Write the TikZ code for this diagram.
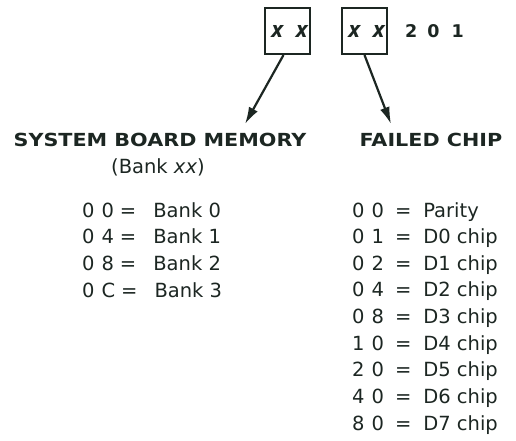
\documentclass[tikz,border=0pt]{standalone}
\usepackage{fontspec}
\setmainfont{DejaVu Sans}
\newfontfamily\osans{Open Sans}
\usetikzlibrary{arrows.meta}
\definecolor{ink}{HTML}{1C2622}
\newcommand{\hd}[1]{\scalebox{1.15}[1]{#1}}
\newcommand{\lrw}[3]{#1\hspace{7pt}#2\hspace{6pt}=\hspace{17pt}#3}
\newcommand{\rrw}[3]{#1\hspace{7pt}#2\hspace{11pt}=\hspace{12pt}#3}
\begin{document}
\begin{tikzpicture}[x=1pt,y=-1pt,
  every node/.style={text=ink, inner sep=0pt},
  xbox/.style={draw=ink, line width=2pt, minimum width=45pt, minimum height=46pt,
    font=\osans\fontsize{22}{24}\selectfont\bfseries\itshape},
  ptr/.style={draw=ink, line width=2.2pt, -{Latex[length=17pt,width=10pt]}},
  head/.style={font=\fontsize{18}{22}\selectfont\bfseries, anchor=base},
  item/.style={font=\fontsize{19.5}{24}\selectfont, anchor=base west}]
\useasboundingbox (0,0) rectangle (516,440);
\node[xbox] (b1) at (287.5,31) {\hspace{4pt}x\hspace{13pt}x};
\node[xbox] (b2) at (364.5,31) {\hspace{4pt}x\hspace{13pt}x};
\node[anchor=base west, font=\fontsize{17.5}{20}\selectfont\bfseries] (code) at (405,37.5) {2\hspace{10pt}0\hspace{12pt}1};
\node[head] (sbm) at (160,146.5) {\hd{SYSTEM BOARD MEMORY}};
\node[item, anchor=base] (bank) at (158,173) {(Bank \textit{xx})};
\node[head] (fc) at (431,146.5) {\hd{FAILED CHIP}};
\node[item] (l1) at (82,217) {\lrw{0}{0}{Bank 0}};
\node[item] (l2) at (82,243.7) {\lrw{0}{4}{Bank 1}};
\node[item] (l3) at (82,270.3) {\lrw{0}{8}{Bank 2}};
\node[item] (l4) at (82,297) {\lrw{0}{C}{Bank 3}};
\node[item] (r1) at (352,217) {\rrw{0}{0}{Parity}};
\node[item] (r2) at (352,243.6) {\rrw{0}{1}{D0 chip}};
\node[item] (r3) at (352,270.3) {\rrw{0}{2}{D1 chip}};
\node[item] (r4) at (352,296.9) {\rrw{0}{4}{D2 chip}};
\node[item] (r5) at (352,323.5) {\rrw{0}{8}{D3 chip}};
\node[item] (r6) at (352,350.1) {\rrw{1}{0}{D4 chip}};
\node[item] (r7) at (352,376.8) {\rrw{2}{0}{D5 chip}};
\node[item] (r8) at (352,403.4) {\rrw{4}{0}{D6 chip}};
\node[item] (r9) at (352,430) {\rrw{8}{0}{D7 chip}};
\coordinate (t1) at (245,124);
\coordinate (t2) at (391,124);
\draw[ptr] ([xshift=-4pt]b1.south) -- (t1);
\draw[ptr] (b2.south) -- (t2);
\end{tikzpicture}
\end{document}
